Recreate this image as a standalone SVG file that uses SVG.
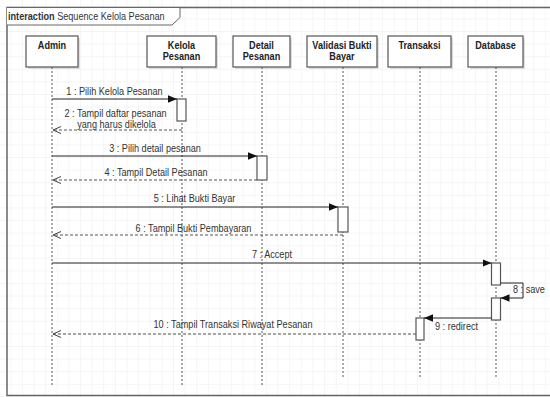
<svg xmlns="http://www.w3.org/2000/svg" width="550" height="397" viewBox="0 0 550 397">
  <defs>
    <pattern id="grid" width="11.62" height="12.6" patternUnits="userSpaceOnUse" x="10.3" y="5.8">
      <path d="M0,0 H11.62 M0,0 V12.6" fill="none" stroke="#ececec" stroke-width="1"/>
    </pattern>
    <marker id="solidHead" markerUnits="userSpaceOnUse" markerWidth="10" markerHeight="10" viewBox="0 0 10 10" refX="9" refY="5" orient="auto">
      <path d="M0,1.2 L9,5 L0,8.8 Z" fill="#111"/>
    </marker>
    <marker id="openHead" markerUnits="userSpaceOnUse" markerWidth="10" markerHeight="10" viewBox="0 0 10 10" refX="9" refY="5" orient="auto">
      <path d="M1,1.5 L9,5 L1,8.5" fill="none" stroke="#444" stroke-width="1"/>
    </marker>
  </defs>
  <style>
    .lbl { font-family: "Liberation Sans", Arial, sans-serif; font-size: 11px; fill: #333; }
    .hdr { font-family: "Liberation Sans", Arial, sans-serif; font-size: 11px; font-weight: bold; fill: #222; }
    .box { fill: #fff; stroke: #555; stroke-width: 1.2; }
    .shadow { fill: #000; opacity: 0.12; }
    .life { stroke: #555; stroke-width: 1; stroke-dasharray: 2 2; fill: none; }
    .act { fill: #fff; stroke: #555; stroke-width: 1.2; }
    .call { stroke: #222; stroke-width: 1; fill: none; marker-end: url(#solidHead); }
    .ret { stroke: #555; stroke-width: 1; stroke-dasharray: 3 2; fill: none; marker-end: url(#openHead); }
  </style>

  <!-- background grid -->
  <rect x="0" y="0" width="550" height="397" fill="#fff"/>
  <rect x="0" y="0" width="550" height="397" fill="url(#grid)"/>

  <!-- interaction frame -->
  <g id="frame">
    <rect x="7" y="7.5" width="560" height="388" fill="none" stroke="#666" stroke-width="1.5"/>
    <path d="M7,7.5 H180 V17.5 L172,25 H7" fill="#fff" stroke="#666" stroke-width="1"/>
    <text class="lbl" transform="translate(8,20) scale(0.83,1)"><tspan font-weight="bold">interaction</tspan> Sequence Kelola Pesanan</text>
  </g>

  <!-- lifelines -->
  <g id="admin">
    <line class="life" x1="52" y1="67" x2="52" y2="385"/>
    <rect class="shadow" x="28" y="38" width="52" height="31"/>
    <rect class="box" x="26" y="36" width="52" height="31"/>
    <text class="hdr" text-anchor="middle" transform="translate(52,49) scale(0.83,1)">Admin</text>
  </g>
  <g id="kelola-pesanan">
    <line class="life" x1="182" y1="67" x2="182" y2="385"/>
    <rect class="shadow" x="149" y="38" width="69" height="31"/>
    <rect class="box" x="147" y="36" width="69" height="31"/>
    <text class="hdr" text-anchor="middle" transform="translate(181.5,49) scale(0.83,1)">Kelola</text>
    <text class="hdr" text-anchor="middle" transform="translate(181.5,60) scale(0.83,1)">Pesanan</text>
  </g>
  <g id="detail-pesanan">
    <line class="life" x1="262" y1="67" x2="262" y2="385"/>
    <rect class="shadow" x="235" y="38" width="57" height="31"/>
    <rect class="box" x="233" y="36" width="57" height="31"/>
    <text class="hdr" text-anchor="middle" transform="translate(261.5,49) scale(0.83,1)">Detail</text>
    <text class="hdr" text-anchor="middle" transform="translate(261.5,60) scale(0.83,1)">Pesanan</text>
  </g>
  <g id="validasi-bukti-bayar">
    <line class="life" x1="343" y1="67" x2="343" y2="379"/>
    <rect class="shadow" x="309" y="38" width="70" height="31"/>
    <rect class="box" x="307" y="36" width="70" height="31"/>
    <text class="hdr" text-anchor="middle" transform="translate(342,49) scale(0.83,1)">Validasi Bukti</text>
    <text class="hdr" text-anchor="middle" transform="translate(342,60) scale(0.83,1)">Bayar</text>
  </g>
  <g id="transaksi">
    <line class="life" x1="420" y1="67" x2="420" y2="379"/>
    <rect class="shadow" x="390" y="38" width="63" height="31"/>
    <rect class="box" x="388" y="36" width="63" height="31"/>
    <text class="hdr" text-anchor="middle" transform="translate(419.5,49) scale(0.83,1)">Transaksi</text>
  </g>
  <g id="database">
    <line class="life" x1="496" y1="67" x2="496" y2="379"/>
    <rect class="shadow" x="470" y="38" width="55" height="31"/>
    <rect class="box" x="468" y="36" width="55" height="31"/>
    <text class="hdr" text-anchor="middle" transform="translate(495.5,49) scale(0.83,1)">Database</text>
  </g>

  <!-- activation bars -->
  <g id="activations">
    <rect class="act" x="177" y="99" width="9" height="22"/>
    <rect class="act" x="257" y="156" width="10" height="24"/>
    <rect class="act" x="338" y="207" width="10" height="25"/>
    <rect class="act" x="491.5" y="263" width="9" height="22"/>
    <rect class="act" x="491.5" y="298" width="9" height="22"/>
    <rect class="act" x="416" y="318" width="8" height="22"/>
  </g>

  <!-- messages -->
  <g id="connectors">
    <line class="call" x1="52" y1="99" x2="177" y2="99"/>
    <line class="ret" x1="182" y1="130" x2="53" y2="130"/>
    <line class="call" x1="52" y1="156" x2="257" y2="156"/>
    <line class="ret" x1="257" y1="180" x2="53" y2="180"/>
    <line class="call" x1="52" y1="207" x2="338" y2="207"/>
    <line class="ret" x1="343" y1="235" x2="53" y2="235"/>
    <line class="call" x1="52" y1="263" x2="491.5" y2="263"/>
    <path class="call" d="M500.5,283 H523 V298 H500.5"/>
    <line class="call" x1="491.5" y1="318" x2="424" y2="318"/>
    <line class="ret" x1="416" y1="334" x2="53" y2="334"/>
  </g>

  <!-- message labels -->
  <g id="labels">
    <text class="lbl" text-anchor="middle" transform="translate(114.5,95) scale(0.83,1)">1 : Pilih Kelola Pesanan</text>
    <text class="lbl" text-anchor="middle" transform="translate(115.5,116.5) scale(0.83,1)">2 : Tampil daftar pesanan</text>
    <text class="lbl" text-anchor="middle" transform="translate(116.5,128) scale(0.83,1)">yang harus dikelola</text>
    <text class="lbl" text-anchor="middle" transform="translate(155,152) scale(0.83,1)">3 : Pilih detail pesanan</text>
    <text class="lbl" text-anchor="middle" transform="translate(156,176) scale(0.83,1)">4 : Tampil Detail Pesanan</text>
    <text class="lbl" text-anchor="middle" transform="translate(194.5,202) scale(0.83,1)">5 : Lihat Bukti Bayar</text>
    <text class="lbl" text-anchor="middle" transform="translate(193.5,232) scale(0.83,1)">6 : Tampil Bukti Pembayaran</text>
    <text class="lbl" text-anchor="middle" transform="translate(272,258) scale(0.83,1)">7 : Accept</text>
    <rect x="511" y="285" width="9" height="10" fill="#fff"/>
    <text class="lbl" transform="translate(513,293) scale(0.83,1)">8 : save</text>
    <text class="lbl" transform="translate(435,330) scale(0.83,1)">9 : redirect</text>
    <text class="lbl" text-anchor="middle" transform="translate(233,328) scale(0.83,1)">10 : Tampil Transaksi Riwayat Pesanan</text>
  </g>
</svg>
